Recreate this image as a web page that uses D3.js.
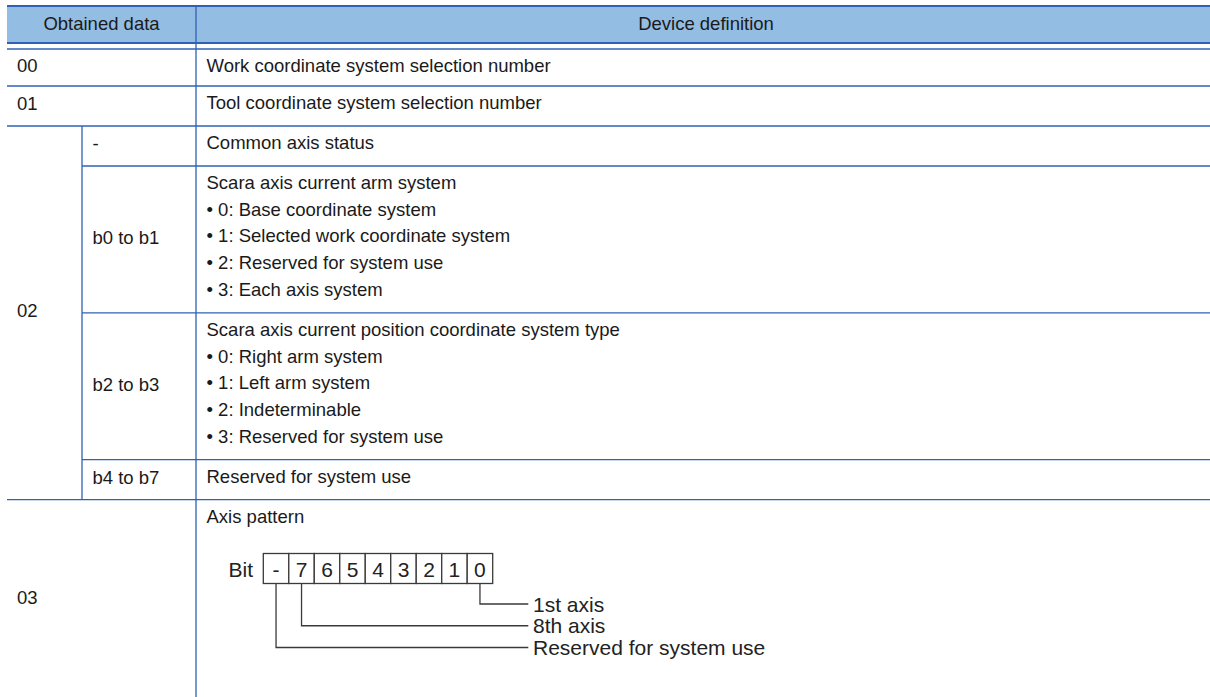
<!DOCTYPE html>
<html><head><meta charset="utf-8">
<script src="https://cdn.jsdelivr.net/npm/d3@7"></script>
<style>html,body{margin:0;padding:0;background:#fff;overflow:hidden}</style>
</head><body><svg id="c" width="1210" height="697"></svg>
<script>
// ---- data ----
const headers = ["Obtained data", "Device definition"];
const mainCodes = ["00", "01", "02", "03"];
const subCodes = ["-", "b0 to b1", "b2 to b3", "b4 to b7"];
const def00 = ["Work coordinate system selection number"];
const def01 = ["Tool coordinate system selection number"];
const def02 = [
  ["Common axis status"],
  ["Scara axis current arm system", "\u2022 0: Base coordinate system", "\u2022 1: Selected work coordinate system", "\u2022 2: Reserved for system use", "\u2022 3: Each axis system"],
  ["Scara axis current position coordinate system type", "\u2022 0: Right arm system", "\u2022 1: Left arm system", "\u2022 2: Indeterminable", "\u2022 3: Reserved for system use"],
  ["Reserved for system use"]
];
const def03 = ["Axis pattern"];
const bitPrefix = "Bit";
const bitLabels = ["-", "7", "6", "5", "4", "3", "2", "1", "0"];
const calloutBits = ["0", "7", "-"];
const calloutTexts = ["1st axis", "8th axis", "Reserved for system use"];

// ---- layout ----
const X0 = 7, XSUB = 82, XDIV = 196, XR = 1216;
const headTop = 6, headBot = 43, bodyTop = 49;
const lineH = 26.7, pad = 13.3;
const rowH = n => pad + n * lineH;
const font = "'Liberation Sans', Arial, sans-serif";
const fs = 18.5;
const lineColor = "#2f62b3";
const textColor = "#1a1a1a";

const svg = d3.select("#c");
svg.append("rect").attr("width", 1210).attr("height", 697).attr("fill", "#fff");

// rows
const y00 = bodyTop, y01 = 86, y02 = y01 + rowH(1);
const subTops = [];
let yy = y02;
def02.forEach(d => { subTops.push(yy); yy += rowH(d.length); });
const y03 = yy, yEnd = 700;

// header
svg.append("rect").attr("x", X0).attr("y", headTop).attr("width", XR - X0).attr("height", headBot - headTop).attr("fill", "#93bde3");
const g = svg.append("g").attr("font-family", font).attr("font-size", fs).attr("fill", textColor);
g.selectAll("text.h").data(headers).join("text").attr("class", "h")
  .attr("x", (d, i) => i === 0 ? (X0 + XDIV) / 2 : (XDIV + XR) / 2)
  .attr("y", (headTop + headBot) / 2 + 5).attr("text-anchor", "middle").text(d => d);

// main rows definition
const mainRows = [
  {code: mainCodes[0], top: y00, bot: y01, lines: def00},
  {code: mainCodes[1], top: y01, bot: y02, lines: def01},
  {code: mainCodes[2], top: y02, bot: y03, lines: null},
  {code: mainCodes[3], top: y03, bot: yEnd, lines: def03}
];
g.selectAll("text.code").data(mainRows).join("text").attr("class", "code")
  .attr("x", X0 + 10).attr("y", d => (d.top + d.bot) / 2 + 4.3).text(d => d.code);

const subRows = def02.map((lines, i) => ({code: subCodes[i], top: subTops[i], bot: subTops[i] + rowH(lines.length), lines}));
g.selectAll("text.sub").data(subRows).join("text").attr("class", "sub")
  .attr("x", XSUB + 10.5).attr("y", d => (d.top + d.bot) / 2 + 4.3).text(d => d.code);

const defCells = mainRows.filter(d => d.lines).concat(subRows);
defCells.forEach(c => {
  g.append("g").selectAll("text").data(c.lines).join("text")
    .attr("x", XDIV + 10.5).attr("y", (d, i) => c.top + 23 + i * lineH).text(d => d);
});

// grid lines
const L = svg.append("g").attr("stroke", lineColor).attr("fill", "none");
const hl = (y, x1, w) => L.append("line").attr("x1", x1).attr("x2", XR).attr("y1", y).attr("y2", y).attr("stroke-width", w);
hl(headTop, X0, 2); hl(headBot, X0, 2); hl(bodyTop, X0, 1.5);
hl(y01, X0, 1.3); hl(y02, X0, 1.3);
subTops.slice(1).forEach(y => hl(y, XSUB, 1.3));
hl(y03, X0, 1.3);
L.append("line").attr("x1", XDIV).attr("x2", XDIV).attr("y1", headTop).attr("y2", yEnd).attr("stroke-width", 1.3);
L.append("line").attr("x1", XSUB).attr("x2", XSUB).attr("y1", y02).attr("y2", y03).attr("stroke-width", 1.3);

// bit diagram
const bx = d3.scaleBand().domain(bitLabels).range([263.3, 492.7]).padding(0);
const boxTop = 553.5, boxH = 30;
const D = svg.append("g").attr("font-family", font).attr("font-size", 21);
D.append("text").attr("x", 253).attr("y", boxTop + 23.5).attr("text-anchor", "end").attr("fill", "#222").text(bitPrefix);
D.selectAll("rect.bit").data(bitLabels).join("rect").attr("class", "bit")
  .attr("x", d => bx(d)).attr("y", boxTop).attr("width", bx.bandwidth()).attr("height", boxH)
  .attr("fill", "#fff").attr("stroke", "#3a3a3a").attr("stroke-width", 1.3);
D.selectAll("text.bit").data(bitLabels).join("text").attr("class", "bit")
  .attr("x", d => bx(d) + bx.bandwidth() / 2).attr("y", boxTop + 23.5).attr("text-anchor", "middle")
  .attr("fill", "#222").text(d => d);

const cy = d3.scalePoint().domain(calloutTexts).range([604, 647.5]);
const lineEnd = 528.3;
D.selectAll("path.co").data(calloutTexts).join("path").attr("class", "co")
  .attr("d", (d, i) => {
    const x = bx(calloutBits[i]) + bx.bandwidth() / 2;
    return `M${x},${boxTop + boxH}V${cy(d)}H${lineEnd}`;
  })
  .attr("fill", "none").attr("stroke", "#3a3a3a").attr("stroke-width", 1.3);
D.selectAll("text.co").data(calloutTexts).join("text").attr("class", "co")
  .attr("x", 533).attr("y", d => cy(d) + 7.5).attr("fill", "#222").text(d => d);
</script>
</body></html>
